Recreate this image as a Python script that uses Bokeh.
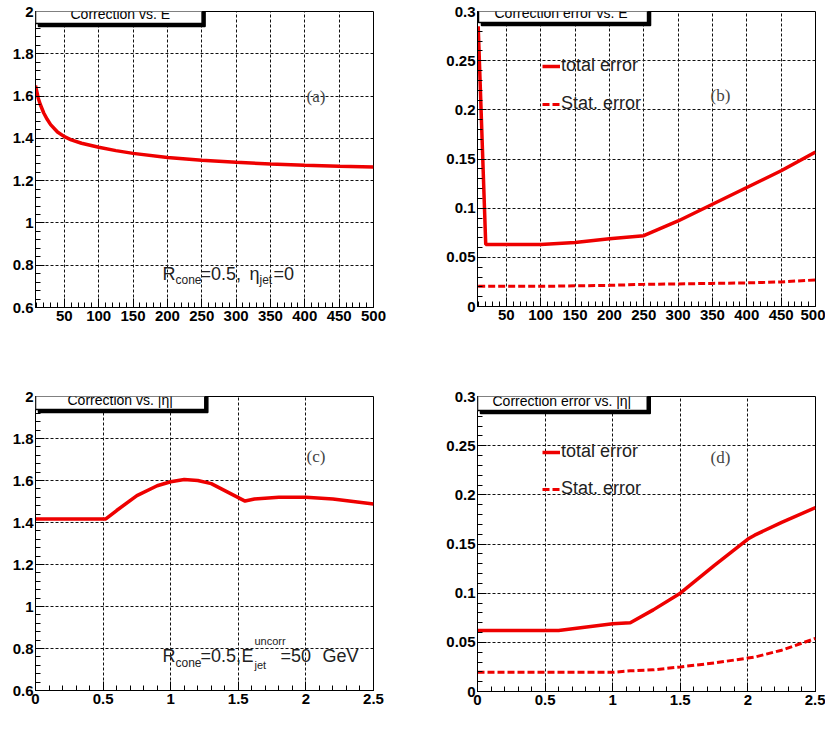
from bokeh.plotting import figure
from bokeh.layouts import column, row
from bokeh.models import (Label, Range1d, FixedTicker, CustomJSTickFormatter,
                          Legend, LegendItem)
from bokeh.embed import file_html
from bokeh.resources import INLINE

# ---------------- data ----------------
# (a) correction vs E
E_a = [8, 12, 15, 20, 25, 30, 40, 50, 60, 75, 100, 125, 150, 200, 250, 300, 350, 400, 450, 500]
corr_a = [1.65, 1.59, 1.56, 1.52, 1.49, 1.465, 1.43, 1.408, 1.393, 1.377, 1.358, 1.342,
          1.329, 1.309, 1.297, 1.287, 1.279, 1.273, 1.268, 1.264]
# (b) correction error vs E
E_b = [9, 20, 50, 100, 150, 200, 250, 300, 350, 400, 450, 500]
tot_b = [0.285, 0.063, 0.063, 0.063, 0.065, 0.069, 0.072, 0.087, 0.104, 0.121, 0.138, 0.157]
stat_b = [0.0205, 0.0205, 0.0205, 0.0205, 0.021, 0.0215, 0.0225, 0.023, 0.0235, 0.024, 0.025, 0.027]
# (c) correction vs |eta|
eta_c = [0, 0.25, 0.52, 0.6, 0.75, 0.9, 1.0, 1.1, 1.2, 1.3, 1.4, 1.55, 1.62, 1.8, 2.0, 2.2, 2.35, 2.5]
corr_c = [1.417, 1.417, 1.417, 1.457, 1.528, 1.575, 1.594, 1.605, 1.6, 1.585, 1.552, 1.502,
          1.512, 1.52, 1.52, 1.512, 1.5, 1.488]
# (d) correction error vs |eta|
eta_d = [0, 0.25, 0.6, 1.0, 1.13, 1.3, 1.5, 1.75, 2.0, 2.05, 2.25, 2.5]
tot_d = [0.062, 0.062, 0.062, 0.069, 0.07, 0.083, 0.1, 0.128, 0.155, 0.159, 0.172, 0.187]
stat_d = [0.0195, 0.0195, 0.0195, 0.0195, 0.021, 0.022, 0.025, 0.029, 0.034, 0.035, 0.042, 0.054]

# ticks
E_ticks = [50, 100, 150, 200, 250, 300, 350, 400, 450, 500]
E_labels = ["50", "100", "150", "200", "250", "300", "350", "400", "450", "500"]
corr_ticks = [0.6, 0.8, 1.0, 1.2, 1.4, 1.6, 1.8, 2.0]
corr_labels = ["0.6", "0.8", "1", "1.2", "1.4", "1.6", "1.8", "2"]
err_ticks = [0, 0.05, 0.1, 0.15, 0.2, 0.25, 0.3]
err_labels = ["0", "0.05", "0.1", "0.15", "0.2", "0.25", "0.3"]
eta_ticks = [0, 0.5, 1.0, 1.5, 2.0, 2.5]
eta_labels = ["0", "0.5", "1", "1.5", "2", "2.5"]

RED = "#ee0000"
SANS = "Liberation Sans"
SERIF = "Liberation Serif"


def fmt(tk, lb):
    return CustomJSTickFormatter(args=dict(tk=tk, lb=lb), code="""
        for (let i = 0; i < tk.length; i++) {
            if (Math.abs(tk[i] - tick) < 1e-9) return lb[i];
        }
        return '';
    """)


def make_fig(xr, yr, xt, xl, yt, yl, xminor, yminor, fw, fh, bl, br, bt, bb):
    p = figure(x_range=Range1d(*xr), y_range=Range1d(*yr), frame_width=fw, frame_height=fh,
               min_border_left=bl, min_border_right=br, min_border_top=bt, min_border_bottom=bb,
               output_backend="svg", toolbar_location=None, background_fill_color="white",
               border_fill_color="white")
    p.outline_line_color = "black"
    p.outline_line_width = 1
    p.xaxis.ticker = FixedTicker(ticks=xt, minor_ticks=xminor)
    p.yaxis.ticker = FixedTicker(ticks=yt, minor_ticks=yminor)
    p.xaxis.formatter = fmt(xt, xl)
    p.yaxis.formatter = fmt(yt, yl)
    for ax in (p.xaxis[0], p.yaxis[0]):
        ax.major_tick_in = 9
        ax.major_tick_out = 0
        ax.minor_tick_in = 5
        ax.minor_tick_out = 0
        ax.major_tick_line_color = "black"
        ax.minor_tick_line_color = "black"
        ax.axis_line_color = "black"
        ax.major_label_text_font = SANS
        ax.major_label_text_font_style = "bold"
        ax.major_label_text_font_size = "15px"
        ax.major_label_text_color = "black"
        ax.major_label_standoff = 2
    p.xaxis.major_label_standoff = 3
    p.xgrid.ticker = FixedTicker(ticks=xt)
    p.ygrid.ticker = FixedTicker(ticks=yt)
    p.grid.grid_line_color = "#111111"
    p.grid.grid_line_dash = "3 2"
    p.grid.grid_line_width = 1
    return p


def put(p, fl, ft, px, py, text, size, font=SANS, color="#222222", style="normal",
        baseline="alphabetic"):
    p.add_layout(Label(x=p.x_range.start, y=p.y_range.end, x_offset=px - fl, y_offset=-(py - ft),
                       text=text, text_font=font, text_font_size=f"{size}px",
                       text_color=color, text_font_style=style, text_baseline=baseline,
                       text_align="left"))


def title_box(p, fl, ft, bx, by, text, pl, pr):
    # bx, by: top-left corner of the title box (page pixels)
    pad = dict(left=pl, right=pr, top=3, bottom=2)
    for dx, dy, bg in ((3, -3, "black"), (0, 0, "white")):
        p.add_layout(Label(x=p.x_range.start, y=p.y_range.end, x_offset=bx - fl + dx,
                           y_offset=-(by - ft) + dy, text=text, text_font=SANS,
                           text_font_size="14px", text_color="black", text_baseline="top",
                           text_align="left", background_fill_color=bg,
                           border_line_color="black", border_line_width=1.5, padding=pad))


E_minor = list(range(10, 500, 10))
corr_minor = [round(0.6 + 0.04 * i, 3) for i in range(36)]
err_minor = [round(0.01 * i, 3) for i in range(31)]
eta_minor = [round(0.1 * i, 2) for i in range(26)]

# ---------------- (a) ----------------
pa = make_fig((8, 500), (0.6, 2.0), E_ticks, E_labels, corr_ticks, corr_labels, E_minor, corr_minor,
              338, 296, 35, 39, 10, 59)
pa.line(E_a, corr_a, line_color=RED, line_width=3.5)
FLa, FTa = 35, 10
title_box(pa, FLa, FTa, 35, 1, "Correction vs. E", 35, 32)
put(pa, FLa, FTa, 306, 95, "(a)", 17, font=SERIF, color="#444444")
put(pa, FLa, FTa, 162, 272, "R", 18)
put(pa, FLa, FTa, 175, 278, "cone", 12)
put(pa, FLa, FTa, 200, 272, "=0.5,", 18)
put(pa, FLa, FTa, 249, 272, "η", 18)
put(pa, FLa, FTa, 259, 278, "jet", 12)
put(pa, FLa, FTa, 273, 272, "=0", 18)
put(pa, FLa, FTa, 311, 338, "E", 12)
put(pa, FLa, FTa, 318, 330, "uncorr", 8)
put(pa, FLa, FTa, 318, 344, "jet", 8)
put(pa, FLa, FTa, 347, 339, "(GeV)", 10)

# ---------------- (b) ----------------
pb = make_fig((8, 500), (0, 0.3), E_ticks, E_labels, err_ticks, err_labels, E_minor, err_minor,
              338, 295, 65, 10, 11, 59)
rb1 = pb.line(E_b, tot_b, line_color=RED, line_width=3.5)
rb2 = pb.line(E_b, stat_b, line_color=RED, line_width=3, line_dash="7 3")
FLb, FTb = 477, 11
title_box(pb, FLb, FTb, 478, 1, "Correction error vs. E", 16, 20)
put(pb, FLb, FTb, 710, 95, "(b)", 17, font=SERIF, color="#444444")
put(pb, FLb, FTb, 751, 338, "E", 12)
put(pb, FLb, FTb, 758, 330, "uncorr", 8)
put(pb, FLb, FTb, 758, 344, "jet", 8)
put(pb, FLb, FTb, 788, 339, "(GeV)", 10)

# ---------------- (c) ----------------
pc = make_fig((0, 2.5), (0.6, 2.0), eta_ticks, eta_labels, corr_ticks, corr_labels, eta_minor, corr_minor,
              338, 294, 35, 39, 31, 42)
pc.line(eta_c, corr_c, line_color=RED, line_width=3.5)
FLc, FTc = 35, 396
title_box(pc, FLc, FTc, 35, 388, "Correction vs. |η|", 32, 32)
put(pc, FLc, FTc, 306, 456, "(c)", 17, font=SERIF, color="#444444")
put(pc, FLc, FTc, 162, 655, "R", 18)
put(pc, FLc, FTc, 175, 662, "cone", 12)
put(pc, FLc, FTc, 200, 655, "=0.5,", 18)
put(pc, FLc, FTc, 241, 655, "E", 18)
put(pc, FLc, FTc, 254, 640, "uncorr", 11)
put(pc, FLc, FTc, 254, 664, "jet", 11)
put(pc, FLc, FTc, 280, 655, "=50", 18)
put(pc, FLc, FTc, 322, 655, "GeV", 18)
put(pc, FLc, FTc, 356, 724, "|η", 11)
put(pc, FLc, FTc, 365, 727, "jet", 8)
put(pc, FLc, FTc, 373, 724, "|", 11)

# ---------------- (d) ----------------
pd_ = make_fig((0, 2.5), (0, 0.3), eta_ticks, eta_labels, err_ticks, err_labels, eta_minor, err_minor,
               338, 295, 65, 10, 30, 42)
rd1 = pd_.line(eta_d, tot_d, line_color=RED, line_width=3.5)
rd2 = pd_.line(eta_d, stat_d, line_color=RED, line_width=3, line_dash="7 3")
FLd, FTd = 477, 395
title_box(pd_, FLd, FTd, 477, 388, "Correction error vs. |η|", 15, 16)
put(pd_, FLd, FTd, 710, 456, "(d)", 17, font=SERIF, color="#444444")
put(pd_, FLd, FTd, 797, 724, "|η", 11)
put(pd_, FLd, FTd, 806, 727, "jet", 8)
put(pd_, FLd, FTd, 814, 724, "|", 11)


def add_legend(p, r, label, x, y):
    lg = Legend(items=[LegendItem(label=label, renderers=[r])], location=(x, y),
                glyph_width=18, glyph_height=20, label_standoff=1, padding=0, margin=0,
                label_text_font=SANS, label_text_font_size="18px", label_text_color="#222222",
                background_fill_alpha=0, border_line_alpha=0)
    p.add_layout(lg)


add_legend(pb, rb1, "total error", 65, 230)
add_legend(pb, rb2, "Stat. error", 65, 192)
add_legend(pd_, rd1, "total error", 65, 229)
add_legend(pd_, rd2, "Stat. error", 65, 192)

layout = column(row(pa, pb), row(pc, pd_))

open("out.html", "w").write(file_html(layout, INLINE))
